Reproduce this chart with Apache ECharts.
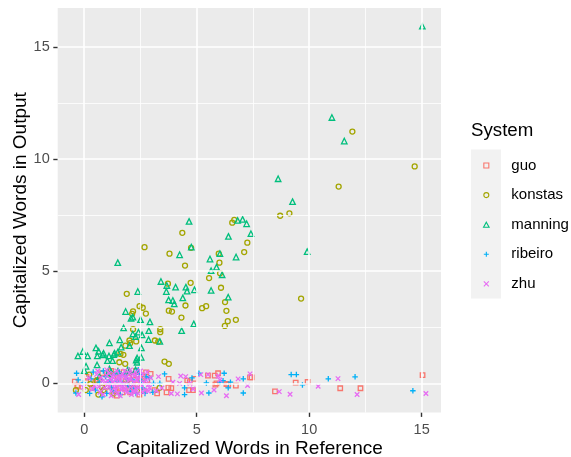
<!DOCTYPE html>
<html>
<head>
<meta charset="utf-8">
<script src="https://cdn.jsdelivr.net/npm/echarts@6/dist/echarts.min.js"></script>
<style>
  body { margin: 0; background: #fff; }
  #chart { width: 571px; height: 457px; }
</style>
</head>
<body>
<div id="chart"></div>
<script>
// systems and colours (ggplot default hue palette)
var systems = ['guo', 'konstas', 'manning', 'ribeiro', 'zhu']
var colors = ['#F8766D', '#A3A500', '#00BF7D', '#00B0F6', '#E76BF3']
var xTicks = [0, 5, 10, 15]
var yTicks = [0, 5, 10, 15]
var minorTicks = [2.5, 7.5, 12.5]

// [reference, output] pairs
var guoPts = [[-0.42, 0.08], [-0.31, -0.1], [-0.28, -0.15], [0.09, 0.05], [0.1, 0.3], [0.35, -0.2], [0.49, 0.09], [0.6, 0.15],
  [0.9, -0.35], [1.1, 0.4], [1.3, -0.1], [1.38, -0.3], [1.5, 0.25], [1.7, -0.4], [1.85, 0.1], [1.98, 0.27], [2.0, -0.25],
  [2.04, -0.4], [2.2, 0.35], [2.35, -0.05], [2.5, 0.2], [2.65, -0.35], [2.75, 0.49], [2.8, 0.12], [2.95, 0.42], [3.12, -0.3],
  [1.2, 0.55], [1.6, -0.2], [1.75, 0.5], [2.1, 0.0], [2.45, -0.5], [2.6, 0.3], [1.0, -0.15], [2.3, 0.55], [0.8, 0.45], [1.45, -0.55],
  [3.24, -0.45], [3.66, -0.4], [3.74, -0.18], [3.75, 0.2], [3.87, -0.21], [4.58, 0.12], [4.66, -0.3], [4.69, 0.05], [4.83, -0.3],
  [4.91, 0.2], [5.5, 0.34], [5.8, 0.34], [5.83, -0.06], [5.88, 0], [5.95, 0.45], [6.32, -0.03], [6.4, -0.06], [6.74, -0.1],
  [7.37, 0.27], [7.44, 0.27], [8.48, -0.36], [9.4, 0.03], [9.93, 0.06], [11.38, -0.22], [12.28, -0.22], [15.04, 0.37]]

var konstasPts = [[11.92, 11.22], [14.69, 9.67], [11.31, 8.77], [8.71, 7.47], [9.12, 7.58], [9.64, 3.78],
  [2.68, 6.07], [1.89, 3.99], [3.72, 4.44], [2.46, 3.44], [2.6, 3.37], [2.17, 3.21], [2.13, 3.1], [2.74, 3.11], [2.17, 2.41],
  [3.38, 2.41], [3.38, 2.28], [3.76, 3.24], [3.79, 5.78], [4.36, 6.71], [6.58, 7.16], [6.67, 7.29], [7.25, 6.27], [7.11, 5.85],
  [4.75, 6.04], [4.48, 5.25], [5.98, 5.78], [6.01, 5.38], [6.04, 4.91], [5.55, 4.69], [4.73, 4.48], [6.08, 4.26], [6.26, 3.62],
  [4.5, 3.47], [5.42, 3.44], [5.24, 3.35], [6.32, 3.23], [3.9, 3.2], [4.32, 2.93], [6.38, 2.77], [6.74, 2.83], [6.25, 2.56],
  [2.01, 1.91], [2.31, 1.87], [3.14, 1.91], [3.29, 1.86], [1.83, 1.68], [2.04, 1.79], [1.74, 1.27], [1.61, 1.31], [1.56, 0.94],
  [1.82, 0.87], [3.57, 0.97], [3.76, 0.87], [0.22, 0.39],
  [-0.37, -0.3], [0.07, -0.3], [0.27, -0.03], [0.63, -0.5], [0.79, -0.18], [0.86, -0.3], [2.16, -0.2], [2.35, -0.33],
  [3.35, -0.2], [0.55, 0.12], [1.3, -0.45], [1.9, 0.0]]

var manningPts = [[15.03, 15.92], [11.01, 11.85], [11.56, 10.8], [8.62, 9.12], [9.26, 8.1], [9.91, 5.87],
  [1.49, 5.38], [2.38, 4.09], [3.41, 4.54], [3.67, 4.36], [3.65, 4.09], [1.84, 3.2], [2.16, 2.95], [2.08, 2.9], [2.5, 2.84],
  [2.92, 2.74], [1.75, 2.47], [2.87, 2.35], [2.41, 2.28], [2.16, 2.2], [3.75, 3.72], [4.66, 7.22], [6.82, 7.26], [7.04, 7.31],
  [7.22, 7.11], [7.41, 6.67], [6.41, 6.55], [6.75, 5.63], [4.24, 5.73], [4.76, 6.07], [5.59, 5.54], [6.03, 5.78], [5.88, 5.18],
  [5.64, 5.02], [6.13, 4.84], [4.06, 4.29], [4.52, 4.29], [4.57, 4.11], [4.9, 4.17], [5.64, 4.14], [4.38, 3.81], [3.94, 3.69],
  [4.0, 3.54], [6.4, 3.84], [4.87, 2.65], [4.33, 2.35],
  [2.57, 2.16], [2.28, 2.08], [3.36, 1.87], [2.86, 1.95], [1.58, 1.94], [1.12, 1.8], [1.64, 1.61], [0.52, 1.58], [0.64, 1.43],
  [0.86, 1.34], [1.35, 1.34], [2.54, 1.58], [-0.06, 1.42], [-0.28, 1.22], [0.15, 1.22], [0.58, 1.22], [0.82, 1.27], [1.1, 1.22],
  [1.31, 1.28], [2.35, 1.13], [2.31, 1.04], [1.03, 1.01], [1.26, 1.01], [0.57, 0.82], [0.08, 0.76], [2.35, 0.94], [1.12, 0.64],
  [0.0, 0.57], [1.49, 1.39], [2.01, 1.68], [2.53, 1.16], [1.93, 0.6],
  [1.19, 0.49], [1.5, 0.54], [2.01, 0.54], [2.28, 0.6], [0.67, 0.3], [1.06, 0.45]]

var ribeiroPts = [[-0.34, 0.45], [-0.27, 0.15], [-0.04, 0.02], [-0.37, -0.43], [0.24, -0.45], [0.3, 0.2], [0.5, -0.3],
  [0.67, 0.05], [0.79, -0.6], [0.95, 0.3], [1.0, -0.45], [1.15, 0.15], [1.2, -0.2], [1.35, 0.4], [1.45, 0.1], [1.6, -0.5],
  [1.7, 0.0], [1.8, 0.35], [1.95, -0.1], [2.05, -0.35], [2.15, 0.15], [2.3, -0.45], [2.45, 0.4], [2.55, 0.1], [2.6, -0.2],
  [0.85, 0.55], [1.3, -0.35], [1.55, 0.5], [1.9, 0.2], [2.2, -0.2], [2.4, 0.6], [2.7, -0.45], [2.75, 0.3], [1.1, 0.05], [0.4, 0.5],
  [2.9, 0.25], [3.05, -0.4], [3.08, 0], [3.36, 0], [3.57, 0.42], [4.46, -0.2], [4.46, -0.5], [4.79, 0.24], [5.1, 0.45],
  [5.43, 0.02], [5.54, -0.43], [6.03, 0.05], [6.17, 0.12], [6.22, 0.45], [6.4, -0.2], [6.5, 0.05], [7.07, 0.2], [7.07, -0.43],
  [9.2, 0.39], [9.43, 0.39], [9.7, -0.07], [10.85, 0.2], [12.04, 0.29], [14.61, -0.33]]

var zhuPts = [[-0.25, -0.5], [-0.04, -0.18], [0.2, 0.25], [0.37, -0.25], [0.45, -0.1], [0.55, 0.4], [0.7, -0.4], [0.8, 0.1],
  [0.9, -0.2], [1.0, 0.35], [1.05, -0.05], [1.15, 0.2], [1.2, -0.35], [1.25, 0.05], [1.3, 0.42], [1.35, -0.2], [1.4, 0.15],
  [1.45, -0.45], [1.5, 0.3], [1.55, -0.1], [1.6, 0.1], [1.65, -0.3], [1.7, 0.4], [1.75, 0.0], [1.8, -0.2], [1.85, 0.25],
  [1.9, -0.4], [1.95, 0.1], [2.0, 0.45], [2.05, -0.15], [2.1, 0.2], [2.15, -0.35], [2.2, 0.05], [2.25, 0.35], [2.3, -0.25],
  [2.35, 0.15], [2.4, -0.45], [2.45, 0.0], [2.5, 0.3], [2.55, -0.1], [2.6, 0.4], [2.7, -0.3], [2.75, 0.15], [2.85, -0.05],
  [2.95, 0.25], [1.1, -0.15], [1.4, -0.3], [1.6, 0.35], [1.9, 0.3], [2.2, -0.1], [0.95, 0.05], [1.25, 0.3], [2.4, 0.25],
  [0.6, 0.55], [0.75, 0.25], [0.85, -0.5], [1.0, 0.6], [1.1, 0.45], [1.2, -0.55], [1.3, 0.25], [1.45, 0.55], [1.55, 0.2],
  [1.6, -0.55], [1.7, -0.15], [1.8, 0.55], [1.85, -0.3], [2.0, 0.2], [2.05, 0.6], [2.1, -0.5], [2.25, -0.4], [2.3, 0.5],
  [2.4, -0.2], [2.5, 0.55], [2.6, -0.4], [2.65, 0.05], [2.8, 0.5], [2.85, -0.35], [1.05, 0.1], [1.35, -0.05], [1.75, 0.3],
  [2.15, 0.4], [0.65, -0.15], [2.9, -0.2],
  [3.2, -0.33], [3.3, 0.3], [3.45, -0.21], [3.87, -0.45], [3.94, 0.05], [4.14, -0.47], [4.24, 0], [4.29, 0.33], [4.51, 0.3],
  [4.7, 0], [4.84, -0.25], [5.18, 0.39], [5.21, -0.43], [5.5, 0.39], [5.77, -0.3], [5.95, 0.33], [6.03, 0.15], [6.32, -0.55],
  [6.84, 0.2], [7.26, -0.1], [7.37, 0.42], [8.67, -0.37], [9.15, -0.49], [10.4, -0.13], [11.28, 0.21], [12.13, -0.5],
  [15.19, -0.45]]

var allPts = [guoPts, konstasPts, manningPts, ribeiroPts, zhuPts]
var symbols = [
  'path://M0,0L10,0L10,10L0,10Z',
  'circle',
  'path://M5,0L10,9L0,9Z',
  'path://M0,5L10,5M5,0L5,10',
  'path://M0,0L10,10M0,10L10,0'
]
var symbolSizes = [4.5, 5, 5.5, 5.5, 4.5]

var chart = echarts.init(document.getElementById('chart'))

// grid lines drawn as markLines on an empty series under the points
var gridLines = []
xTicks.forEach(function (v) { gridLines.push({ xAxis: v, lineStyle: { width: 1.6 } }) })
yTicks.forEach(function (v) { gridLines.push({ yAxis: v, lineStyle: { width: 1.6 } }) })
minorTicks.forEach(function (v) {
  gridLines.push({ xAxis: v, lineStyle: { width: 0.8 } })
  gridLines.push({ yAxis: v, lineStyle: { width: 0.8 } })
})

var series = [{
  name: 'grid',
  type: 'scatter',
  data: [],
  z: 1,
  silent: true,
  markLine: {
    silent: true,
    animation: false,
    symbol: ['none', 'none'],
    label: { show: false },
    lineStyle: { color: '#ffffff', type: 'solid' },
    data: gridLines
  }
}]
systems.forEach(function (s, i) {
  series.push({
    name: s,
    type: 'scatter',
    data: allPts[i],
    symbol: symbols[i],
    symbolSize: symbolSizes[i],
    z: 2,
    itemStyle: { color: 'rgba(0,0,0,0)', borderColor: colors[i], borderWidth: 1.3, opacity: 1 }
  })
})

var option = {
  animation: false,
  textStyle: { fontFamily: 'Liberation Sans' },
  title: {
    text: 'System',
    left: 471,
    top: 121,
    padding: 0,
    textStyle: { fontSize: 18.7, fontWeight: 'normal', color: '#000', fontFamily: 'Liberation Sans' }
  },
  legend: {
    data: systems,
    orient: 'vertical',
    left: 483,
    top: 157.5,
    padding: 0,
    itemWidth: 6,
    itemHeight: 5,
    itemGap: 13.6,
    symbolKeepAspect: true,
    itemStyle: { borderWidth: 1.1 },
    textStyle: { fontSize: 15, lineHeight: 16, padding: [0, 0, 0, 17], color: '#000', fontFamily: 'Liberation Sans' }
  },
  graphic: [{
    type: 'rect',
    left: 471,
    top: 149.5,
    z: -1,
    shape: { width: 30, height: 149 },
    style: { fill: '#F2F2F2' }
  }],
  grid: {
    left: 57.7,
    top: 8,
    width: 383.3,
    height: 404.5,
    show: true,
    backgroundColor: '#EBEBEB',
    borderWidth: 0,
    containLabel: false,
    outerBoundsMode: 'none'
  },
  xAxis: {
    type: 'value',
    min: -1.18,
    max: 15.86,
    name: 'Capitalized Words in Reference',
    nameLocation: 'middle',
    nameGap: 27,
    nameMoveOverlap: false,
    nameTextStyle: { fontSize: 19, color: '#000', fontFamily: 'Liberation Sans' },
    axisLine: { show: false, onZero: false },
    axisTick: { show: true, customValues: xTicks, length: 4.4, lineStyle: { color: '#333333', width: 1.4 } },
    axisLabel: { customValues: xTicks, margin: 10, fontSize: 14.5, color: '#4D4D4D', fontFamily: 'Liberation Sans' },
    splitLine: { show: false }
  },
  yAxis: {
    type: 'value',
    min: -1.3,
    max: 16.73,
    name: 'Capitalized Words in Output',
    nameLocation: 'middle',
    nameGap: 27,
    nameMoveOverlap: false,
    nameTextStyle: { fontSize: 19, color: '#000', fontFamily: 'Liberation Sans' },
    axisLine: { show: false, onZero: false },
    axisTick: { show: true, customValues: yTicks, length: 4.4, lineStyle: { color: '#333333', width: 1.4 } },
    axisLabel: { customValues: yTicks, margin: 8, fontSize: 14.5, color: '#4D4D4D', fontFamily: 'Liberation Sans' },
    splitLine: { show: false }
  },
  series: series
}
chart.setOption(option)
</script>
</body>
</html>
